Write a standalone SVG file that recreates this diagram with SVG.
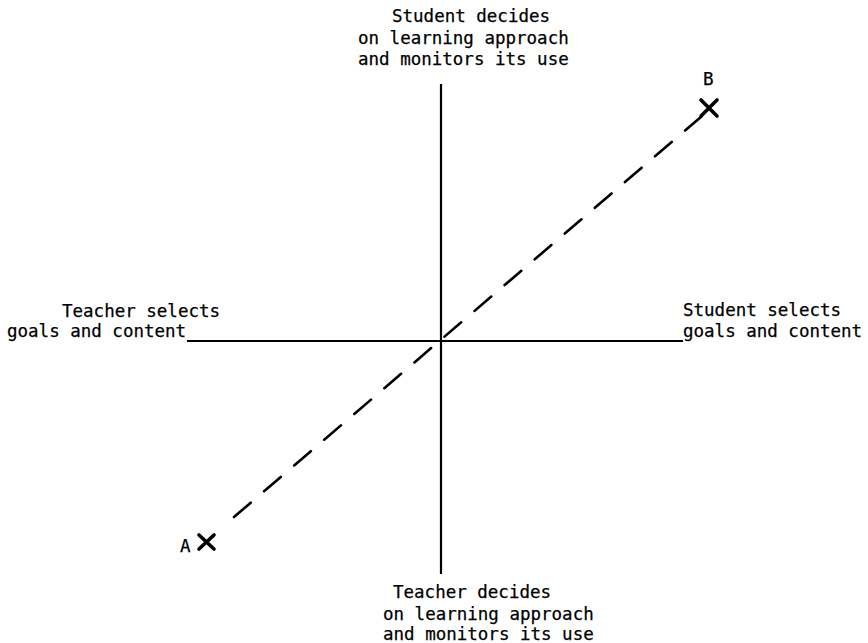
<svg xmlns="http://www.w3.org/2000/svg" width="868" height="643" viewBox="0 0 868 643">
<style>
text{font-family:"DejaVu Sans Mono","Liberation Mono",monospace;font-size:17.5px;fill:#000;stroke:#000;stroke-width:0.25}
.ax{stroke:#000;stroke-width:2.2;fill:none}
.dash{stroke:#000;stroke-width:2.6;fill:none;stroke-dasharray:22 17.6;stroke-linecap:round}
.mark{stroke:#000;stroke-width:3.6;stroke-linecap:round;fill:none}
</style>
<rect width="868" height="643" fill="#fff"/>
<g id="connectors">
<line class="ax" x1="441" y1="84" x2="441" y2="574"/>
<line class="ax" x1="187" y1="341" x2="683" y2="341"/>
<line class="dash" x1="234" y1="517" x2="702" y2="116"/>
</g>
<g id="top-label">
<text x="392" y="22">Student decides</text>
<text x="358" y="44">on learning approach</text>
<text x="358" y="65">and monitors its use</text>
</g>
<g id="left-label">
<text x="62" y="317">Teacher selects</text>
<text x="7" y="337">goals and content</text>
</g>
<g id="right-label">
<text x="683" y="316">Student selects</text>
<text x="683" y="337">goals and content</text>
</g>
<g id="bottom-label">
<text x="393" y="598">Teacher decides</text>
<text x="383" y="620">on learning approach</text>
<text x="383" y="640">and monitors its use</text>
</g>
<g id="point-A">
<path class="mark" d="M199 535 L214 549 M214 535 L199 549"/>
<text x="180" y="552">A</text>
</g>
<g id="point-B">
<path class="mark" d="M701 100 L717 116 M717 100 L701 116"/>
<text x="703" y="85">B</text>
</g>
</svg>
